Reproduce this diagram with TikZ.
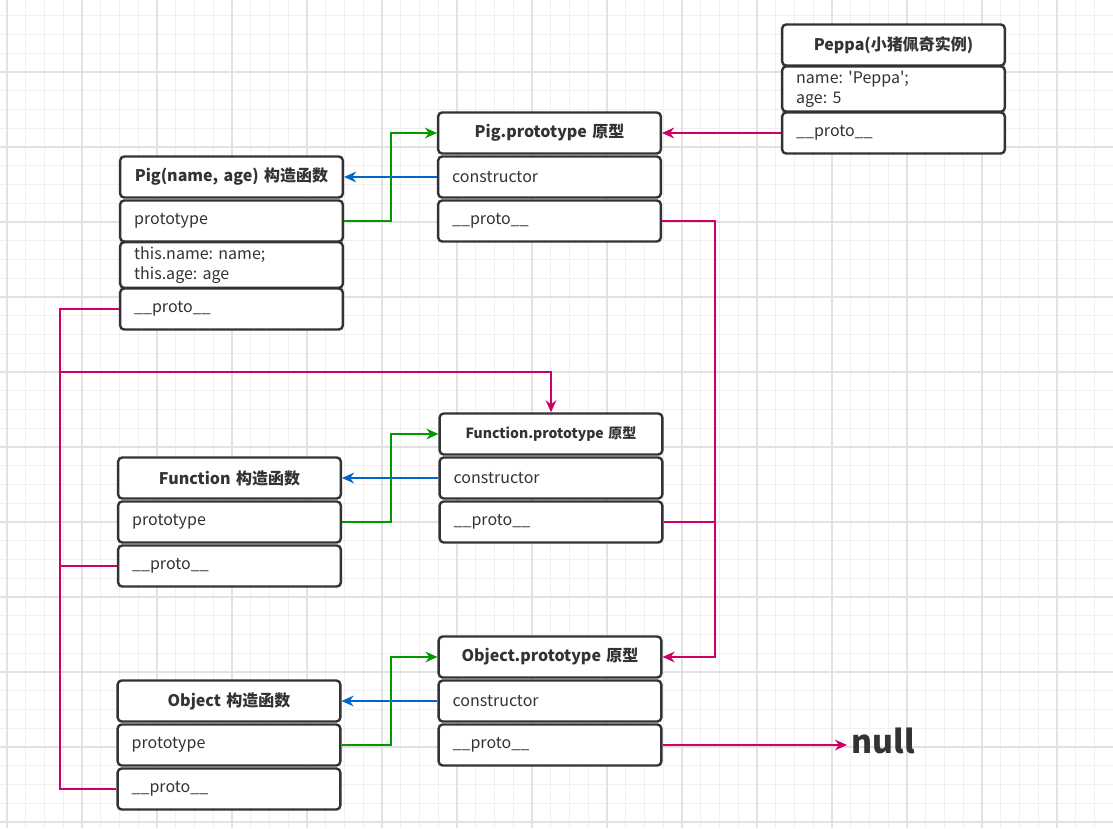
\documentclass[tikz,border=0pt]{standalone}
\usepackage{fontspec}
\setmainfont{Noto Sans CJK SC}[Ligatures=TeXOff]
\frenchspacing
\usetikzlibrary{arrows.meta}
\definecolor{boxline}{HTML}{333333}
\definecolor{protoPink}{HTML}{CC0066}
\definecolor{ctorBlue}{HTML}{0066CC}
\definecolor{protoGreen}{HTML}{009900}
\definecolor{gridMinor}{HTML}{F0F0F0}
\definecolor{gridMajor}{HTML}{E2E2E2}

\begin{document}
\begin{tikzpicture}[x=0.75pt,y=-0.75pt,
		>={Stealth[length=9pt,width=8pt]},
		fieldbox/.style={draw=boxline,line width=1.8pt,rounded corners=3pt,fill=white,
			minimum width=167pt,minimum height=30.75pt,text width=146pt,inner xsep=10.5pt,
			align=left,text=boxline,font=\fontsize{12}{15}\selectfont},
		headbox/.style={fieldbox,align=center,font=\bfseries\fontsize{12}{15}\selectfont},
		proto/.style={draw=protoPink,line width=1.5pt},
		ctor/.style={draw=ctorBlue,line width=1.5pt},
		link/.style={draw=protoGreen,line width=1.5pt}
		]
	\useasboundingbox (0,0) rectangle (1113,828);
	\fill[white] (0,0) rectangle (1113,828);
	
	% Háttér rács
	% ----------------------
	\begin{scope}[shift={(7,-3)}]
		\draw[gridMinor,line width=0.8pt,step=14.0625pt] (-7,3) grid (1106,831);
		\draw[gridMajor,line width=0.8pt,step=56.25pt] (-7,3) grid (1106,831);
	\end{scope}
	
	% Peppa példány
	% ----------------------
	\node[headbox] (PeppaTitle) at (893.5,45) {Peppa(小猪佩奇实例)};
	\node[fieldbox] (PeppaData) at (893.5,89) {name: 'Peppa';\\age: 5};
	\node[fieldbox] (PeppaProto) at (893.5,133) {\_\_proto\_\_};
	
	% Pig
	% ----------------------
	
		% Pig.prototype
		\node[headbox] (PigProtoTitle) at (549.5,133) {Pig.prototype 原型};
		\node[fieldbox] (PigProtoCtor) at (549.5,177) {constructor};
		\node[fieldbox] (PigProtoProto) at (549.5,221) {\_\_proto\_\_};
		
		% Pig konstruktor
		\node[headbox] (PigTitle) at (231.5,177) {Pig(name, age) 构造函数};
		\node[fieldbox] (PigPrototype) at (231.5,221) {prototype};
		\node[fieldbox] (PigThis) at (231.5,265) {this.name: name;\\this.age: age};
		\node[fieldbox] (PigProto) at (231.5,309) {\_\_proto\_\_};
	
	% Function
	% ----------------------
	
		% Function.prototype
		\node[headbox,font=\bfseries\fontsize{10.5}{13}\selectfont] (FuncProtoTitle) at (551,434) {Function.prototype 原型};
		\node[fieldbox] (FuncProtoCtor) at (551,478) {constructor};
		\node[fieldbox] (FuncProtoProto) at (551,522) {\_\_proto\_\_};
		
		% Function konstruktor
		\node[headbox] (FuncTitle) at (229.5,478) {Function 构造函数};
		\node[fieldbox] (FuncPrototype) at (229.5,522) {prototype};
		\node[fieldbox] (FuncProto) at (229.5,566) {\_\_proto\_\_};
	
	% Object
	% ----------------------
	
		% Object.prototype
		\node[headbox] (ObjProtoTitle) at (550,657) {Object.prototype 原型};
		\node[fieldbox] (ObjProtoCtor) at (550,701) {constructor};
		\node[fieldbox] (ObjProtoProto) at (550,745) {\_\_proto\_\_};
		
		% Object konstruktor
		\node[headbox] (ObjTitle) at (229,701) {Object 构造函数};
		\node[fieldbox] (ObjPrototype) at (229,745) {prototype};
		\node[fieldbox] (ObjProto) at (229,789) {\_\_proto\_\_};
	
	\node[anchor=west,text=boxline,font=\bfseries\fontsize{24}{28}\selectfont] (Null) at (847,741) {null};
	
	% prototype -> prototype objektum
	\draw[link,->] (PigPrototype.east) -- ++(47,0) |- (PigProtoTitle.west);
	\draw[link,->] (FuncPrototype.east) -- ++(49,0) |- (FuncProtoTitle.west);
	\draw[link,->] (ObjPrototype.east) -- ++(49,0) |- (ObjProtoTitle.west);
	
	% constructor -> konstruktor
	\draw[ctor,->] (PigProtoCtor.west) -- (PigTitle.east);
	\draw[ctor,->] (FuncProtoCtor.west) -- (FuncTitle.east);
	\draw[ctor,->] (ObjProtoCtor.west) -- (ObjTitle.east);
	
	% __proto__ lánc
	\draw[proto,->] (PeppaProto.west) -- (PigProtoTitle.east);
	\draw[proto,->] (PigProtoProto.east) -- ++(53,0) coordinate (rBus) |- (ObjProtoTitle.east);
	\draw[proto] (FuncProtoProto.east) -- (FuncProtoProto.east -| rBus);
	\draw[proto] (PigProto.west) -- ++(-59,0) coordinate (lBus) |- (ObjProto.west);
	\draw[proto] (FuncProto.west) -- (FuncProto.west -| lBus);
	\draw[proto,->] (lBus) ++(0,63) -| (FuncProtoTitle.north);
	\draw[proto,->] (ObjProtoProto.east) -- (Null.west |- ObjProtoProto.east);
	
\end{tikzpicture}
\end{document}
